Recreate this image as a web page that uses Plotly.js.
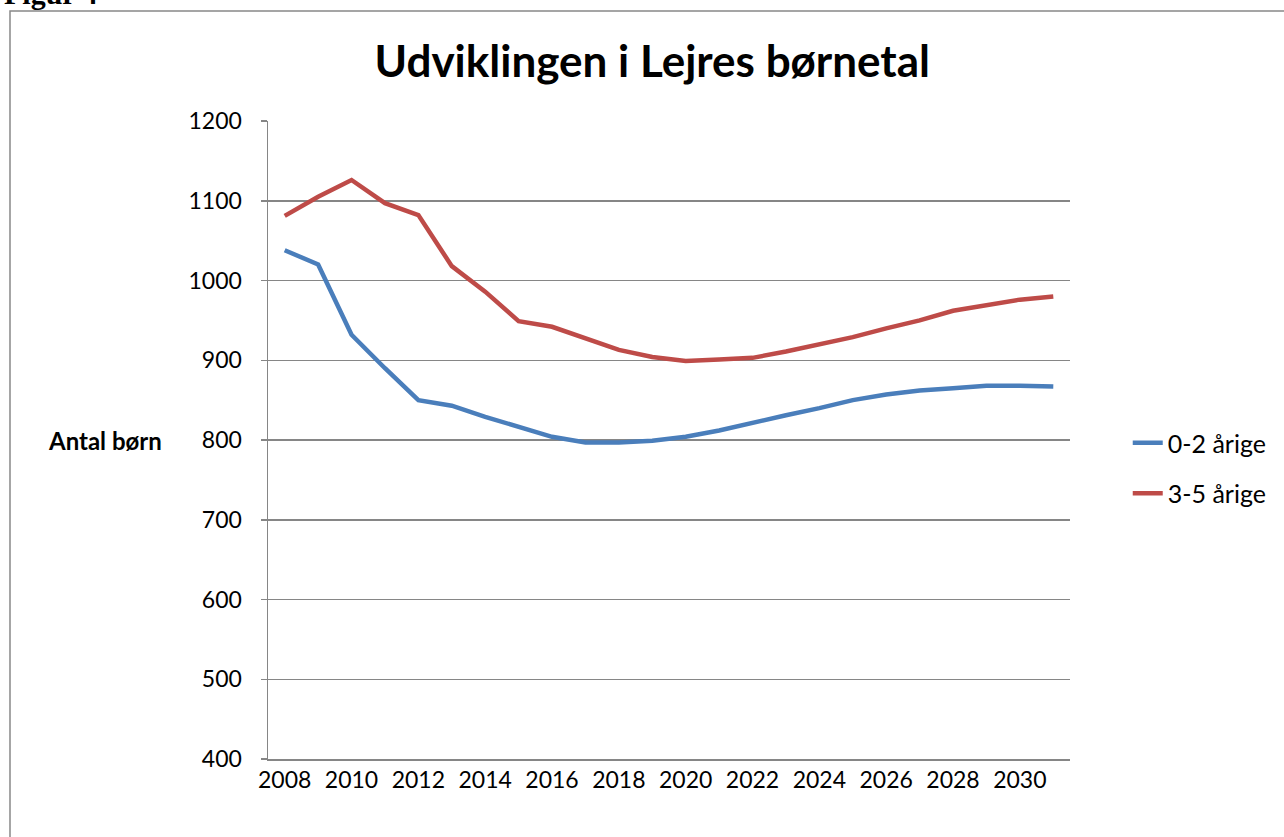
<!DOCTYPE html>
<html>
<head>
<meta charset="utf-8">
<script src="https://cdn.plot.ly/plotly-3.0.1.min.js"></script>
<style>html,body{margin:0;padding:0;background:#fff;}#chart{width:1284px;height:837px;}</style>
</head>
<body>
<div id="chart"></div>
<script>
const years = [2008,2009,2010,2011,2012,2013,2014,2015,2016,2017,2018,2019,2020,2021,2022,2023,2024,2025,2026,2027,2028,2029,2030,2031];
const age0to2 = [1038,1020,932,890,850,843,829,817,804,797,797,799,804,812,822,831,840,850,857,862,865,868,868,867];
const age3to5 = [1081,1105,1126,1097,1082,1018,986,949,942,927,913,904,899,901,903,911,920,929,940,950,962,969,976,980];
const seriesNames = ['0-2 årige','3-5 årige'];
const xTicks = [2008,2010,2012,2014,2016,2018,2020,2022,2024,2026,2028,2030];

const font = 'Lato, "Open Sans", sans-serif';
const traces = [
  {x: years, y: age0to2, name: seriesNames[0], type: 'scatter', mode: 'lines',
   line: {color: '#4A7EBB', width: 4.5}, legendgroup: 'a'},
  {x: years, y: age3to5, name: seriesNames[1], type: 'scatter', mode: 'lines',
   line: {color: '#BE4B48', width: 4.5}, legendgroup: 'b'}
];
const layout = {
  width: 1284, height: 837,
  margin: {l: 268, r: 214, t: 121, b: 78},
  paper_bgcolor: '#fff', plot_bgcolor: '#fff',
  font: {family: font, size: 23, color: '#000'},
  title: {text: '<b>Udviklingen i Lejres børnetal</b>', font: {family: font, size: 44, color: '#000'},
          xref: 'container', x: 0.508, xanchor: 'center', yref: 'container', y: 0.926, yanchor: 'middle'},
  xaxis: {range: [2007.5, 2031.5], tickvals: xTicks, ticktext: xTicks.map(String), showgrid: false,
          showline: true, linecolor: '#868686', linewidth: 1.5, ticks: '', zeroline: false,
          tickfont: {family: font, size: 23}, ticklabelstandoff: 0, fixedrange: true},
  yaxis: {range: [400, 1200], dtick: 100, tick0: 400, showgrid: true, gridcolor: '#868686', gridwidth: 1.5,
          showline: true, linecolor: '#868686', linewidth: 1.5, ticks: 'outside', ticklen: 6, tickcolor: '#868686',
          tickwidth: 1.5, zeroline: false, tickfont: {family: font, size: 23}, ticklabelstandoff: 14},
  showlegend: true,
  legend: {x: 1.072, xanchor: 'left', y: 0.456, yanchor: 'middle', font: {family: font, size: 25},
           tracegroupgap: 15, bgcolor: 'rgba(0,0,0,0)'},
  annotations: [
    {text: '<b>Antal børn</b>', xref: 'paper', yref: 'y', x: -0.277, y: 800, xanchor: 'left', yanchor: 'middle',
     showarrow: false, font: {family: font, size: 24, color: '#000'}},
    {text: '<b>Figur 4</b>', xref: 'paper', yref: 'paper', x: -0.332, y: 1.1705, xanchor: 'left', yanchor: 'bottom',
     showarrow: false, font: {family: '"Liberation Serif", serif', size: 30, color: '#000'}}
  ],
  shapes: [
    {type: 'rect', xref: 'paper', yref: 'paper', x0: -0.3217, x1: 1.35, y0: -0.25, y1: 1.1724,
     line: {color: '#888888', width: 1.5}, fillcolor: 'rgba(0,0,0,0)', layer: 'below'}
  ]
};
Plotly.newPlot('chart', traces, layout, {displayModeBar: false, staticPlot: true});
</script>
</body>
</html>
